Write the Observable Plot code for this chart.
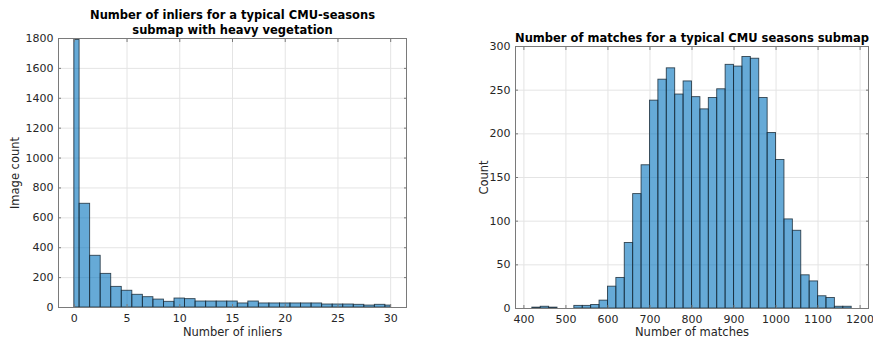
<!DOCTYPE html>
<html><head><meta charset="utf-8">
<script src="https://cdn.jsdelivr.net/npm/d3@7"></script>
<script src="https://cdn.jsdelivr.net/npm/@observablehq/plot@0.6"></script>
<style>
body{margin:0;background:#fff;}
#wrap{position:relative;width:873px;height:339px;overflow:hidden;}
#wrap svg{position:absolute;top:0;}
</style>
</head><body><div id="wrap"></div>
<script>
// ---- Left chart: number of inliers (bins centred on integers, clipped to [0,30]) ----
const inlierBins = [0,1,2,3,4,5,6,7,8,9,10,11,12,13,14,15,16,17,18,19,20,21,22,23,24,25,26,27,28,29,30];
const inlierCounts = [1790,694,346,225,138,112,85,69,53,38,60,56,40,40,40,40,27,40,27,27,27,27,27,27,20,20,20,18,13,18,13];
const inlierXTicks = [0,5,10,15,20,25,30];
const inlierYTicks = [0,200,400,600,800,1000,1200,1400,1600,1800];

// ---- Right chart: number of matches (bins of width 20, given by their start) ----
const matchBinStarts = [420,440,460,480,500,520,540,560,580,600,620,640,660,680,700,720,740,760,780,800,820,840,860,880,900,920,940,960,980,1000,1020,1040,1060,1080,1100,1120,1140,1160];
const matchCounts = [1,2,1,0,0,3,3,4,9,25,35,75,131,164,238,262,275,245,260,242,228,241,251,279,277,288,286,241,201,170,102,89,38,31,14,12,2,2];
const matchBinWidth = 20;
const matchXTicks = [400,500,600,700,800,900,1000,1100,1200];
const matchYTicks = [0,50,100,150,200,250,300];

const FONT = "DejaVu Sans";
const TXT = "#262626";
const GRID = "#e4e4e4";
const FRAME = "#7a7a7a";
const BAR = {fill: "#0072bd", fillOpacity: 0.6, stroke: "#1a2a36", strokeOpacity: 0.85, strokeWidth: 0.9};
const fmt = d3.format("d");

function axes(xt, yt) {
  return [
    Plot.axisX(xt, {anchor: "bottom", tickSize: -3, tickPadding: 10, tickFormat: fmt, label: null, stroke: FRAME, color: TXT}),
    Plot.axisX(xt, {anchor: "top", tickSize: -3, tickFormat: () => "", label: null, stroke: FRAME}),
    Plot.axisY(yt, {anchor: "left", tickSize: -3, tickPadding: 8, tickFormat: fmt, label: null, stroke: FRAME, color: TXT}),
    Plot.axisY(yt, {anchor: "right", tickSize: -3, tickFormat: () => "", label: null, stroke: FRAME})
  ];
}

const inlierData = inlierBins.map((b, i) => ({x1: Math.max(0, b - 0.5), x2: Math.min(30, b + 0.5), y: inlierCounts[i]}));
const left = Plot.plot({
  width: 430, height: 339,
  marginLeft: 58, marginRight: 24, marginTop: 38, marginBottom: 32,
  style: {fontFamily: FONT, fontSize: "11px", color: TXT, background: "transparent"},
  x: {domain: [-1.5, 31.5]},
  y: {domain: [0, 1800]},
  marks: [
    Plot.gridX(inlierXTicks, {stroke: GRID, strokeOpacity: 1}),
    Plot.gridY(inlierYTicks, {stroke: GRID, strokeOpacity: 1}),
    Plot.rectY(inlierData, {x1: "x1", x2: "x2", y: "y", ...BAR}),
    Plot.frame({stroke: FRAME}),
    ...axes(inlierXTicks, inlierYTicks),
    Plot.text(["Number of inliers for a typical CMU-seasons\nsubmap with heavy vegetation"], {frameAnchor: "top", dy: -17, lineAnchor: "middle", lineHeight: 1.36, fontWeight: "bold", fontSize: 11.5, fill: "black"}),
    Plot.text(["Number of inliers"], {frameAnchor: "bottom", dy: 25, lineAnchor: "middle", fontSize: 11.5, fill: TXT}),
    Plot.text(["Image count"], {frameAnchor: "left", dx: -43, rotate: -90, textAnchor: "middle", fontSize: 11.5, fill: TXT})
  ]
});
left.style.left = "0px";

const matchData = matchBinStarts.map((b, i) => ({x1: b, x2: b + matchBinWidth, y: matchCounts[i]}));
const right = Plot.plot({
  width: 433, height: 339,
  marginLeft: 75, marginRight: 5, marginTop: 46, marginBottom: 31,
  style: {fontFamily: FONT, fontSize: "11px", color: TXT, background: "transparent"},
  x: {domain: [380, 1220]},
  y: {domain: [0, 300]},
  marks: [
    Plot.gridX(matchXTicks, {stroke: GRID, strokeOpacity: 1}),
    Plot.gridY(matchYTicks, {stroke: GRID, strokeOpacity: 1}),
    Plot.rectY(matchData, {x1: "x1", x2: "x2", y: "y", ...BAR}),
    Plot.frame({stroke: FRAME}),
    ...axes(matchXTicks, matchYTicks),
    Plot.text(["Number of matches for a typical CMU seasons submap"], {frameAnchor: "top", dy: -8, lineAnchor: "middle", fontWeight: "bold", fontSize: 11.5, fill: "black"}),
    Plot.text(["Number of matches"], {frameAnchor: "bottom", dy: 24, lineAnchor: "middle", fontSize: 11.5, fill: TXT}),
    Plot.text(["Count"], {frameAnchor: "left", dx: -31, rotate: -90, textAnchor: "middle", fontSize: 11.5, fill: TXT})
  ]
});
right.style.left = "440px";

const wrap = document.getElementById("wrap");
wrap.appendChild(left);
wrap.appendChild(right);
</script>
</body></html>
